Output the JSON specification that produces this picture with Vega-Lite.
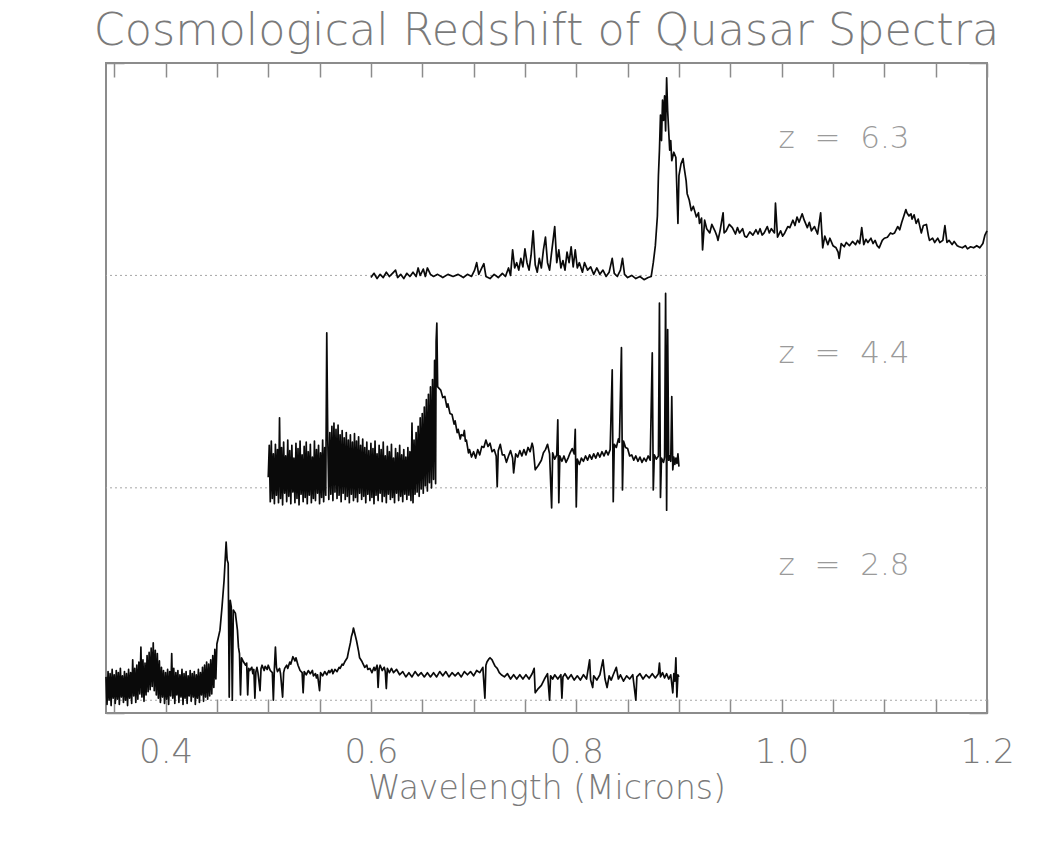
{
  "$schema": "https://vega.github.io/schema/vega-lite/v6.json",
  "width": 881,
  "height": 650,
  "autosize": "none",
  "padding": {"left": 106, "top": 63, "right": 56, "bottom": 130},
  "background": "white",
  "title": {
    "text": "Cosmological Redshift of Quasar Spectra",
    "anchor": "middle",
    "font": "DejaVu Sans",
    "fontWeight": 200,
    "fontSize": 44.5,
    "color": "#7a7a7a",
    "offset": 8
  },
  "config": {
    "view": {"stroke": "#8c8c8c", "strokeWidth": 2},
    "axis": {
      "domain": false,
      "grid": false,
      "tickColor": "#8c8c8c",
      "tickWidth": 1.5,
      "labelFont": "DejaVu Sans",
      "labelFontWeight": 200,
      "labelColor": "#7a7a7a",
      "titleFont": "DejaVu Sans",
      "titleFontWeight": 200,
      "titleColor": "#7a7a7a"
    }
  },
  "datasets": {
    "baselines": [{"z": "2.8", "f": 0}, {"z": "4.4", "f": 2}, {"z": "6.3", "f": 4}],
    "labels": [
      {"w": 0.997, "f": 5.28, "label": "z\u00a0\u00a0=\u00a0\u00a06.3"},
      {"w": 0.997, "f": 3.26, "label": "z\u00a0\u00a0=\u00a0\u00a04.4"},
      {"w": 0.997, "f": 1.26, "label": "z\u00a0\u00a0=\u00a0\u00a02.8"}
    ],
    "spectra": [
      {"z":"6.3","w":0.600,"f":3.98},{"z":"6.3","w":0.603,"f":4.02},{"z":"6.3","w":0.606,"f":3.97},{"z":"6.3","w":0.609,"f":4.01},
      {"z":"6.3","w":0.612,"f":3.98},{"z":"6.3","w":0.615,"f":4.03},{"z":"6.3","w":0.618,"f":3.99},{"z":"6.3","w":0.621,"f":4.02},
      {"z":"6.3","w":0.624,"f":4.05},{"z":"6.3","w":0.626,"f":3.98},{"z":"6.3","w":0.629,"f":4.01},{"z":"6.3","w":0.632,"f":3.97},
      {"z":"6.3","w":0.635,"f":4.02},{"z":"6.3","w":0.638,"f":3.99},{"z":"6.3","w":0.641,"f":4.03},{"z":"6.3","w":0.644,"f":3.99},
      {"z":"6.3","w":0.646,"f":4.07},{"z":"6.3","w":0.648,"f":4.00},{"z":"6.3","w":0.651,"f":4.06},{"z":"6.3","w":0.653,"f":3.99},
      {"z":"6.3","w":0.655,"f":4.07},{"z":"6.3","w":0.658,"f":4.01},{"z":"6.3","w":0.661,"f":3.99},{"z":"6.3","w":0.665,"f":4.01},
      {"z":"6.3","w":0.670,"f":3.98},{"z":"6.3","w":0.675,"f":4.01},{"z":"6.3","w":0.680,"f":3.99},{"z":"6.3","w":0.685,"f":4.01},
      {"z":"6.3","w":0.690,"f":3.98},{"z":"6.3","w":0.694,"f":4.01},{"z":"6.3","w":0.698,"f":3.99},{"z":"6.3","w":0.701,"f":4.05},
      {"z":"6.3","w":0.703,"f":4.12},{"z":"6.3","w":0.705,"f":4.01},{"z":"6.3","w":0.708,"f":4.07},{"z":"6.3","w":0.710,"f":4.11},
      {"z":"6.3","w":0.712,"f":3.99},{"z":"6.3","w":0.716,"f":3.97},{"z":"6.3","w":0.720,"f":4.01},{"z":"6.3","w":0.724,"f":3.98},
      {"z":"6.3","w":0.728,"f":4.02},{"z":"6.3","w":0.731,"f":3.99},{"z":"6.3","w":0.734,"f":4.07},{"z":"6.3","w":0.736,"f":4.00},
      {"z":"6.3","w":0.738,"f":4.24},{"z":"6.3","w":0.740,"f":4.07},{"z":"6.3","w":0.742,"f":4.12},{"z":"6.3","w":0.744,"f":4.05},
      {"z":"6.3","w":0.746,"f":4.16},{"z":"6.3","w":0.748,"f":4.08},{"z":"6.3","w":0.750,"f":4.25},{"z":"6.3","w":0.752,"f":4.12},
      {"z":"6.3","w":0.754,"f":4.05},{"z":"6.3","w":0.756,"f":4.19},{"z":"6.3","w":0.758,"f":4.42},{"z":"6.3","w":0.760,"f":4.10},
      {"z":"6.3","w":0.762,"f":4.03},{"z":"6.3","w":0.764,"f":4.16},{"z":"6.3","w":0.766,"f":4.07},{"z":"6.3","w":0.768,"f":4.24},
      {"z":"6.3","w":0.770,"f":4.36},{"z":"6.3","w":0.772,"f":4.12},{"z":"6.3","w":0.774,"f":4.05},{"z":"6.3","w":0.776,"f":4.22},
      {"z":"6.3","w":0.779,"f":4.46},{"z":"6.3","w":0.781,"f":4.12},{"z":"6.3","w":0.783,"f":4.24},{"z":"6.3","w":0.785,"f":4.07},
      {"z":"6.3","w":0.787,"f":4.14},{"z":"6.3","w":0.789,"f":4.05},{"z":"6.3","w":0.791,"f":4.22},{"z":"6.3","w":0.793,"f":4.12},
      {"z":"6.3","w":0.795,"f":4.27},{"z":"6.3","w":0.797,"f":4.08},{"z":"6.3","w":0.799,"f":4.24},{"z":"6.3","w":0.801,"f":4.07},
      {"z":"6.3","w":0.803,"f":4.12},{"z":"6.3","w":0.806,"f":4.03},{"z":"6.3","w":0.808,"f":4.12},{"z":"6.3","w":0.811,"f":4.05},
      {"z":"6.3","w":0.814,"f":4.08},{"z":"6.3","w":0.817,"f":4.01},{"z":"6.3","w":0.820,"f":4.07},{"z":"6.3","w":0.823,"f":4.01},
      {"z":"6.3","w":0.826,"f":4.05},{"z":"6.3","w":0.829,"f":3.99},{"z":"6.3","w":0.832,"f":4.03},{"z":"6.3","w":0.835,"f":4.16},
      {"z":"6.3","w":0.837,"f":4.02},{"z":"6.3","w":0.840,"f":3.99},{"z":"6.3","w":0.843,"f":4.05},{"z":"6.3","w":0.845,"f":4.16},
      {"z":"6.3","w":0.847,"f":4.01},{"z":"6.3","w":0.850,"f":3.98},{"z":"6.3","w":0.854,"f":4.00},{"z":"6.3","w":0.858,"f":3.97},
      {"z":"6.3","w":0.862,"f":3.99},{"z":"6.3","w":0.866,"f":3.96},{"z":"6.3","w":0.870,"f":3.98},{"z":"6.3","w":0.873,"f":3.99},
      {"z":"6.3","w":0.875,"f":4.12},{"z":"6.3","w":0.877,"f":4.28},{"z":"6.3","w":0.879,"f":4.56},{"z":"6.3","w":0.880,"f":4.94},
      {"z":"6.3","w":0.881,"f":5.18},{"z":"6.3","w":0.882,"f":5.51},{"z":"6.3","w":0.883,"f":5.27},{"z":"6.3","w":0.884,"f":5.65},
      {"z":"6.3","w":0.885,"f":5.46},{"z":"6.3","w":0.886,"f":5.69},{"z":"6.3","w":0.887,"f":5.36},{"z":"6.3","w":0.888,"f":5.86},
      {"z":"6.3","w":0.889,"f":5.55},{"z":"6.3","w":0.890,"f":5.36},{"z":"6.3","w":0.891,"f":5.18},{"z":"6.3","w":0.892,"f":5.27},
      {"z":"6.3","w":0.893,"f":5.08},{"z":"6.3","w":0.895,"f":5.16},{"z":"6.3","w":0.897,"f":5.11},{"z":"6.3","w":0.899,"f":4.49},
      {"z":"6.3","w":0.900,"f":4.94},{"z":"6.3","w":0.902,"f":5.05},{"z":"6.3","w":0.904,"f":5.10},{"z":"6.3","w":0.905,"f":5.02},
      {"z":"6.3","w":0.907,"f":4.89},{"z":"6.3","w":0.908,"f":4.77},{"z":"6.3","w":0.910,"f":4.71},{"z":"6.3","w":0.912,"f":4.61},
      {"z":"6.3","w":0.914,"f":4.65},{"z":"6.3","w":0.917,"f":4.55},{"z":"6.3","w":0.919,"f":4.59},{"z":"6.3","w":0.920,"f":4.49},
      {"z":"6.3","w":0.922,"f":4.54},{"z":"6.3","w":0.923,"f":4.24},{"z":"6.3","w":0.925,"f":4.52},{"z":"6.3","w":0.927,"f":4.44},
      {"z":"6.3","w":0.930,"f":4.40},{"z":"6.3","w":0.932,"f":4.48},{"z":"6.3","w":0.935,"f":4.42},{"z":"6.3","w":0.937,"f":4.37},
      {"z":"6.3","w":0.938,"f":4.33},{"z":"6.3","w":0.940,"f":4.42},{"z":"6.3","w":0.943,"f":4.59},{"z":"6.3","w":0.944,"f":4.40},
      {"z":"6.3","w":0.946,"f":4.42},{"z":"6.3","w":0.949,"f":4.48},{"z":"6.3","w":0.952,"f":4.45},{"z":"6.3","w":0.955,"f":4.39},
      {"z":"6.3","w":0.957,"f":4.45},{"z":"6.3","w":0.959,"f":4.40},{"z":"6.3","w":0.962,"f":4.44},{"z":"6.3","w":0.964,"f":4.37},
      {"z":"6.3","w":0.966,"f":4.36},{"z":"6.3","w":0.969,"f":4.41},{"z":"6.3","w":0.972,"f":4.38},{"z":"6.3","w":0.975,"f":4.43},
      {"z":"6.3","w":0.977,"f":4.39},{"z":"6.3","w":0.979,"f":4.44},{"z":"6.3","w":0.981,"f":4.38},{"z":"6.3","w":0.983,"f":4.40},
      {"z":"6.3","w":0.986,"f":4.46},{"z":"6.3","w":0.988,"f":4.40},{"z":"6.3","w":0.990,"f":4.44},{"z":"6.3","w":0.993,"f":4.40},
      {"z":"6.3","w":0.994,"f":4.68},{"z":"6.3","w":0.996,"f":4.36},{"z":"6.3","w":0.999,"f":4.42},{"z":"6.3","w":1.001,"f":4.37},
      {"z":"6.3","w":1.003,"f":4.40},{"z":"6.3","w":1.006,"f":4.46},{"z":"6.3","w":1.008,"f":4.45},{"z":"6.3","w":1.011,"f":4.52},
      {"z":"6.3","w":1.013,"f":4.47},{"z":"6.3","w":1.015,"f":4.55},{"z":"6.3","w":1.017,"f":4.50},{"z":"6.3","w":1.020,"f":4.58},
      {"z":"6.3","w":1.022,"f":4.52},{"z":"6.3","w":1.025,"f":4.45},{"z":"6.3","w":1.027,"f":4.50},{"z":"6.3","w":1.029,"f":4.42},
      {"z":"6.3","w":1.032,"f":4.46},{"z":"6.3","w":1.035,"f":4.39},{"z":"6.3","w":1.038,"f":4.59},{"z":"6.3","w":1.040,"f":4.26},
      {"z":"6.3","w":1.042,"f":4.37},{"z":"6.3","w":1.045,"f":4.29},{"z":"6.3","w":1.047,"f":4.35},{"z":"6.3","w":1.050,"f":4.28},
      {"z":"6.3","w":1.053,"f":4.26},{"z":"6.3","w":1.055,"f":4.22},{"z":"6.3","w":1.056,"f":4.16},{"z":"6.3","w":1.058,"f":4.30},
      {"z":"6.3","w":1.061,"f":4.27},{"z":"6.3","w":1.063,"f":4.31},{"z":"6.3","w":1.066,"f":4.28},{"z":"6.3","w":1.069,"f":4.32},
      {"z":"6.3","w":1.072,"f":4.29},{"z":"6.3","w":1.074,"f":4.33},{"z":"6.3","w":1.076,"f":4.30},{"z":"6.3","w":1.078,"f":4.45},
      {"z":"6.3","w":1.080,"f":4.29},{"z":"6.3","w":1.082,"f":4.34},{"z":"6.3","w":1.084,"f":4.31},{"z":"6.3","w":1.087,"f":4.35},
      {"z":"6.3","w":1.089,"f":4.30},{"z":"6.3","w":1.091,"f":4.33},{"z":"6.3","w":1.093,"f":4.28},{"z":"6.3","w":1.095,"f":4.26},
      {"z":"6.3","w":1.098,"f":4.33},{"z":"6.3","w":1.100,"f":4.35},{"z":"6.3","w":1.103,"f":4.36},{"z":"6.3","w":1.106,"f":4.40},
      {"z":"6.3","w":1.108,"f":4.39},{"z":"6.3","w":1.110,"f":4.40},{"z":"6.3","w":1.113,"f":4.46},{"z":"6.3","w":1.115,"f":4.43},
      {"z":"6.3","w":1.117,"f":4.50},{"z":"6.3","w":1.119,"f":4.56},{"z":"6.3","w":1.121,"f":4.62},{"z":"6.3","w":1.122,"f":4.59},
      {"z":"6.3","w":1.124,"f":4.56},{"z":"6.3","w":1.126,"f":4.58},{"z":"6.3","w":1.127,"f":4.53},{"z":"6.3","w":1.129,"f":4.57},
      {"z":"6.3","w":1.131,"f":4.49},{"z":"6.3","w":1.133,"f":4.53},{"z":"6.3","w":1.136,"f":4.40},{"z":"6.3","w":1.138,"f":4.47},
      {"z":"6.3","w":1.141,"f":4.48},{"z":"6.3","w":1.143,"f":4.37},{"z":"6.3","w":1.144,"f":4.33},{"z":"6.3","w":1.147,"f":4.35},
      {"z":"6.3","w":1.149,"f":4.31},{"z":"6.3","w":1.152,"f":4.35},{"z":"6.3","w":1.154,"f":4.31},{"z":"6.3","w":1.157,"f":4.33},
      {"z":"6.3","w":1.159,"f":4.47},{"z":"6.3","w":1.161,"f":4.31},{"z":"6.3","w":1.163,"f":4.33},{"z":"6.3","w":1.166,"f":4.29},
      {"z":"6.3","w":1.168,"f":4.32},{"z":"6.3","w":1.171,"f":4.28},{"z":"6.3","w":1.173,"f":4.27},{"z":"6.3","w":1.176,"f":4.26},
      {"z":"6.3","w":1.179,"f":4.28},{"z":"6.3","w":1.181,"f":4.25},{"z":"6.3","w":1.184,"f":4.27},{"z":"6.3","w":1.187,"f":4.26},
      {"z":"6.3","w":1.190,"f":4.28},{"z":"6.3","w":1.193,"f":4.26},{"z":"6.3","w":1.196,"f":4.30},{"z":"6.3","w":1.198,"f":4.38},
      {"z":"6.3","w":1.200,"f":4.42},

      {"z":"4.4","w":0.500,"f":2.10},{"z":"4.4","w":0.501,"f":2.40},{"z":"4.4","w":0.502,"f":1.87},{"z":"4.4","w":0.503,"f":2.44},
      {"z":"4.4","w":0.504,"f":1.90},{"z":"4.4","w":0.505,"f":2.32},{"z":"4.4","w":0.506,"f":1.85},{"z":"4.4","w":0.507,"f":2.41},
      {"z":"4.4","w":0.508,"f":1.93},{"z":"4.4","w":0.509,"f":2.36},{"z":"4.4","w":0.510,"f":1.86},{"z":"4.4","w":0.511,"f":2.66},
      {"z":"4.4","w":0.512,"f":1.90},{"z":"4.4","w":0.513,"f":2.38},{"z":"4.4","w":0.514,"f":1.84},{"z":"4.4","w":0.515,"f":2.43},
      {"z":"4.4","w":0.516,"f":1.95},{"z":"4.4","w":0.517,"f":2.30},{"z":"4.4","w":0.518,"f":1.87},{"z":"4.4","w":0.519,"f":2.45},
      {"z":"4.4","w":0.520,"f":1.92},{"z":"4.4","w":0.521,"f":2.35},{"z":"4.4","w":0.522,"f":1.85},{"z":"4.4","w":0.523,"f":2.40},
      {"z":"4.4","w":0.524,"f":1.96},{"z":"4.4","w":0.525,"f":2.28},{"z":"4.4","w":0.526,"f":1.86},{"z":"4.4","w":0.527,"f":2.42},
      {"z":"4.4","w":0.528,"f":1.90},{"z":"4.4","w":0.529,"f":2.37},{"z":"4.4","w":0.530,"f":1.84},{"z":"4.4","w":0.531,"f":2.44},
      {"z":"4.4","w":0.532,"f":1.94},{"z":"4.4","w":0.533,"f":2.31},{"z":"4.4","w":0.534,"f":1.87},{"z":"4.4","w":0.535,"f":2.39},
      {"z":"4.4","w":0.536,"f":1.91},{"z":"4.4","w":0.537,"f":2.43},{"z":"4.4","w":0.538,"f":1.85},{"z":"4.4","w":0.539,"f":2.34},
      {"z":"4.4","w":0.540,"f":1.93},{"z":"4.4","w":0.541,"f":2.41},{"z":"4.4","w":0.542,"f":1.86},{"z":"4.4","w":0.543,"f":2.29},
      {"z":"4.4","w":0.544,"f":1.90},{"z":"4.4","w":0.545,"f":2.44},{"z":"4.4","w":0.546,"f":1.88},{"z":"4.4","w":0.547,"f":2.36},
      {"z":"4.4","w":0.548,"f":1.95},{"z":"4.4","w":0.549,"f":2.40},{"z":"4.4","w":0.550,"f":1.85},{"z":"4.4","w":0.551,"f":2.33},
      {"z":"4.4","w":0.552,"f":1.91},{"z":"4.4","w":0.553,"f":2.45},{"z":"4.4","w":0.554,"f":1.87},{"z":"4.4","w":0.555,"f":2.38},
      {"z":"4.4","w":0.556,"f":1.93},{"z":"4.4","w":0.557,"f":3.46},{"z":"4.4","w":0.558,"f":2.45},{"z":"4.4","w":0.559,"f":1.89},
      {"z":"4.4","w":0.560,"f":2.52},{"z":"4.4","w":0.561,"f":1.94},{"z":"4.4","w":0.562,"f":2.58},{"z":"4.4","w":0.563,"f":1.88},
      {"z":"4.4","w":0.564,"f":2.61},{"z":"4.4","w":0.565,"f":1.96},{"z":"4.4","w":0.566,"f":2.55},{"z":"4.4","w":0.567,"f":1.90},
      {"z":"4.4","w":0.568,"f":2.59},{"z":"4.4","w":0.569,"f":1.93},{"z":"4.4","w":0.570,"f":2.50},{"z":"4.4","w":0.571,"f":1.87},
      {"z":"4.4","w":0.572,"f":2.54},{"z":"4.4","w":0.573,"f":1.95},{"z":"4.4","w":0.574,"f":2.47},{"z":"4.4","w":0.575,"f":1.89},
      {"z":"4.4","w":0.576,"f":2.52},{"z":"4.4","w":0.577,"f":1.92},{"z":"4.4","w":0.578,"f":2.45},{"z":"4.4","w":0.579,"f":1.86},
      {"z":"4.4","w":0.580,"f":2.50},{"z":"4.4","w":0.581,"f":1.94},{"z":"4.4","w":0.582,"f":2.43},{"z":"4.4","w":0.583,"f":1.88},
      {"z":"4.4","w":0.584,"f":2.51},{"z":"4.4","w":0.585,"f":1.91},{"z":"4.4","w":0.586,"f":2.44},{"z":"4.4","w":0.587,"f":1.87},
      {"z":"4.4","w":0.588,"f":2.48},{"z":"4.4","w":0.589,"f":1.95},{"z":"4.4","w":0.590,"f":2.40},{"z":"4.4","w":0.591,"f":1.89},
      {"z":"4.4","w":0.592,"f":2.46},{"z":"4.4","w":0.593,"f":1.92},{"z":"4.4","w":0.594,"f":2.38},{"z":"4.4","w":0.595,"f":1.86},
      {"z":"4.4","w":0.596,"f":2.43},{"z":"4.4","w":0.597,"f":1.94},{"z":"4.4","w":0.598,"f":2.35},{"z":"4.4","w":0.599,"f":1.88},
      {"z":"4.4","w":0.600,"f":2.42},{"z":"4.4","w":0.601,"f":1.91},{"z":"4.4","w":0.602,"f":2.37},{"z":"4.4","w":0.603,"f":1.85},
      {"z":"4.4","w":0.604,"f":2.44},{"z":"4.4","w":0.605,"f":1.93},{"z":"4.4","w":0.606,"f":2.32},{"z":"4.4","w":0.607,"f":1.88},
      {"z":"4.4","w":0.608,"f":2.40},{"z":"4.4","w":0.609,"f":1.95},{"z":"4.4","w":0.610,"f":2.36},{"z":"4.4","w":0.611,"f":1.87},
      {"z":"4.4","w":0.612,"f":2.43},{"z":"4.4","w":0.613,"f":1.92},{"z":"4.4","w":0.614,"f":2.30},{"z":"4.4","w":0.615,"f":1.86},
      {"z":"4.4","w":0.616,"f":2.39},{"z":"4.4","w":0.617,"f":1.94},{"z":"4.4","w":0.618,"f":2.34},{"z":"4.4","w":0.619,"f":1.89},
      {"z":"4.4","w":0.620,"f":2.41},{"z":"4.4","w":0.621,"f":1.91},{"z":"4.4","w":0.622,"f":2.28},{"z":"4.4","w":0.623,"f":1.86},
      {"z":"4.4","w":0.624,"f":2.37},{"z":"4.4","w":0.625,"f":1.95},{"z":"4.4","w":0.626,"f":2.33},{"z":"4.4","w":0.627,"f":1.88},
      {"z":"4.4","w":0.628,"f":2.40},{"z":"4.4","w":0.629,"f":1.92},{"z":"4.4","w":0.630,"f":2.31},{"z":"4.4","w":0.631,"f":1.87},
      {"z":"4.4","w":0.632,"f":2.36},{"z":"4.4","w":0.633,"f":1.94},{"z":"4.4","w":0.634,"f":2.29},{"z":"4.4","w":0.635,"f":1.89},
      {"z":"4.4","w":0.636,"f":2.38},{"z":"4.4","w":0.637,"f":1.93},{"z":"4.4","w":0.638,"f":2.34},{"z":"4.4","w":0.639,"f":1.88},
      {"z":"4.4","w":0.640,"f":2.61},{"z":"4.4","w":0.641,"f":1.86},{"z":"4.4","w":0.642,"f":2.45},{"z":"4.4","w":0.643,"f":1.94},
      {"z":"4.4","w":0.644,"f":2.52},{"z":"4.4","w":0.645,"f":1.96},{"z":"4.4","w":0.646,"f":2.58},{"z":"4.4","w":0.647,"f":1.92},
      {"z":"4.4","w":0.648,"f":2.66},{"z":"4.4","w":0.649,"f":1.99},{"z":"4.4","w":0.650,"f":2.70},{"z":"4.4","w":0.651,"f":1.95},
      {"z":"4.4","w":0.652,"f":2.76},{"z":"4.4","w":0.653,"f":2.02},{"z":"4.4","w":0.654,"f":2.83},{"z":"4.4","w":0.655,"f":1.97},
      {"z":"4.4","w":0.656,"f":2.88},{"z":"4.4","w":0.657,"f":2.05},{"z":"4.4","w":0.658,"f":2.95},{"z":"4.4","w":0.659,"f":2.00},
      {"z":"4.4","w":0.660,"f":3.02},{"z":"4.4","w":0.661,"f":2.08},{"z":"4.4","w":0.662,"f":3.20},{"z":"4.4","w":0.663,"f":2.04},
      {"z":"4.4","w":0.6635,"f":3.38},{"z":"4.4","w":0.6642,"f":3.55},{"z":"4.4","w":0.6650,"f":2.95},
      {"z":"4.4","w":0.668,"f":2.92},{"z":"4.4","w":0.670,"f":2.85},{"z":"4.4","w":0.672,"f":2.86},{"z":"4.4","w":0.674,"f":2.76},
      {"z":"4.4","w":0.675,"f":2.79},{"z":"4.4","w":0.677,"f":2.70},{"z":"4.4","w":0.679,"f":2.69},{"z":"4.4","w":0.681,"f":2.60},
      {"z":"4.4","w":0.682,"f":2.63},{"z":"4.4","w":0.684,"f":2.52},{"z":"4.4","w":0.685,"f":2.55},{"z":"4.4","w":0.687,"f":2.46},
      {"z":"4.4","w":0.688,"f":2.50},{"z":"4.4","w":0.690,"f":2.49},{"z":"4.4","w":0.691,"f":2.54},{"z":"4.4","w":0.692,"f":2.44},
      {"z":"4.4","w":0.693,"f":2.45},{"z":"4.4","w":0.695,"f":2.33},{"z":"4.4","w":0.696,"f":2.36},{"z":"4.4","w":0.698,"f":2.29},
      {"z":"4.4","w":0.700,"f":2.34},{"z":"4.4","w":0.702,"f":2.28},{"z":"4.4","w":0.704,"f":2.36},{"z":"4.4","w":0.706,"f":2.31},
      {"z":"4.4","w":0.708,"f":2.39},{"z":"4.4","w":0.710,"f":2.38},{"z":"4.4","w":0.712,"f":2.45},{"z":"4.4","w":0.714,"f":2.39},
      {"z":"4.4","w":0.716,"f":2.42},{"z":"4.4","w":0.718,"f":2.34},{"z":"4.4","w":0.720,"f":2.36},{"z":"4.4","w":0.722,"f":2.30},
      {"z":"4.4","w":0.723,"f":2.01},{"z":"4.4","w":0.724,"f":2.35},{"z":"4.4","w":0.726,"f":2.41},{"z":"4.4","w":0.728,"f":2.31},
      {"z":"4.4","w":0.730,"f":2.31},{"z":"4.4","w":0.732,"f":2.24},{"z":"4.4","w":0.734,"f":2.30},{"z":"4.4","w":0.736,"f":2.35},
      {"z":"4.4","w":0.738,"f":2.28},{"z":"4.4","w":0.739,"f":2.14},{"z":"4.4","w":0.741,"f":2.32},{"z":"4.4","w":0.743,"f":2.29},
      {"z":"4.4","w":0.745,"f":2.35},{"z":"4.4","w":0.747,"f":2.30},{"z":"4.4","w":0.749,"f":2.36},{"z":"4.4","w":0.751,"f":2.31},
      {"z":"4.4","w":0.753,"f":2.38},{"z":"4.4","w":0.755,"f":2.34},{"z":"4.4","w":0.757,"f":2.42},{"z":"4.4","w":0.758,"f":2.38},
      {"z":"4.4","w":0.760,"f":2.17},{"z":"4.4","w":0.763,"f":2.21},{"z":"4.4","w":0.766,"f":2.26},{"z":"4.4","w":0.768,"f":2.33},
      {"z":"4.4","w":0.770,"f":2.36},{"z":"4.4","w":0.772,"f":2.41},{"z":"4.4","w":0.774,"f":2.32},{"z":"4.4","w":0.776,"f":1.81},
      {"z":"4.4","w":0.777,"f":2.33},{"z":"4.4","w":0.779,"f":2.27},{"z":"4.4","w":0.781,"f":2.31},{"z":"4.4","w":0.782,"f":2.64},
      {"z":"4.4","w":0.783,"f":1.86},{"z":"4.4","w":0.784,"f":2.30},{"z":"4.4","w":0.786,"f":2.25},{"z":"4.4","w":0.788,"f":2.30},
      {"z":"4.4","w":0.790,"f":2.24},{"z":"4.4","w":0.792,"f":2.28},{"z":"4.4","w":0.794,"f":2.33},{"z":"4.4","w":0.796,"f":2.37},
      {"z":"4.4","w":0.798,"f":2.32},{"z":"4.4","w":0.799,"f":2.55},{"z":"4.4","w":0.800,"f":1.82},{"z":"4.4","w":0.801,"f":2.27},
      {"z":"4.4","w":0.803,"f":2.22},{"z":"4.4","w":0.805,"f":2.28},{"z":"4.4","w":0.807,"f":2.25},{"z":"4.4","w":0.809,"f":2.30},
      {"z":"4.4","w":0.811,"f":2.26},{"z":"4.4","w":0.813,"f":2.31},{"z":"4.4","w":0.815,"f":2.27},{"z":"4.4","w":0.817,"f":2.32},
      {"z":"4.4","w":0.819,"f":2.28},{"z":"4.4","w":0.821,"f":2.33},{"z":"4.4","w":0.823,"f":2.29},{"z":"4.4","w":0.825,"f":2.34},
      {"z":"4.4","w":0.827,"f":2.30},{"z":"4.4","w":0.829,"f":2.35},{"z":"4.4","w":0.831,"f":2.31},{"z":"4.4","w":0.833,"f":2.36},
      {"z":"4.4","w":0.835,"f":3.11},{"z":"4.4","w":0.836,"f":1.87},{"z":"4.4","w":0.837,"f":2.41},{"z":"4.4","w":0.839,"f":2.38},
      {"z":"4.4","w":0.841,"f":2.46},{"z":"4.4","w":0.842,"f":2.43},{"z":"4.4","w":0.844,"f":3.32},{"z":"4.4","w":0.845,"f":1.98},
      {"z":"4.4","w":0.846,"f":2.44},{"z":"4.4","w":0.848,"f":2.38},{"z":"4.4","w":0.850,"f":2.37},{"z":"4.4","w":0.852,"f":2.30},
      {"z":"4.4","w":0.854,"f":2.31},{"z":"4.4","w":0.856,"f":2.26},{"z":"4.4","w":0.858,"f":2.30},{"z":"4.4","w":0.860,"f":2.25},
      {"z":"4.4","w":0.862,"f":2.29},{"z":"4.4","w":0.864,"f":2.24},{"z":"4.4","w":0.866,"f":2.28},{"z":"4.4","w":0.868,"f":2.25},
      {"z":"4.4","w":0.870,"f":2.30},{"z":"4.4","w":0.872,"f":2.26},{"z":"4.4","w":0.874,"f":3.27},{"z":"4.4","w":0.875,"f":1.98},
      {"z":"4.4","w":0.876,"f":2.31},{"z":"4.4","w":0.878,"f":2.27},{"z":"4.4","w":0.880,"f":2.30},{"z":"4.4","w":0.881,"f":3.74},
      {"z":"4.4","w":0.882,"f":1.91},{"z":"4.4","w":0.883,"f":2.28},{"z":"4.4","w":0.885,"f":2.24},{"z":"4.4","w":0.886,"f":2.29},
      {"z":"4.4","w":0.887,"f":3.83},{"z":"4.4","w":0.888,"f":1.79},{"z":"4.4","w":0.889,"f":3.49},{"z":"4.4","w":0.890,"f":2.26},
      {"z":"4.4","w":0.891,"f":2.30},{"z":"4.4","w":0.892,"f":2.25},{"z":"4.4","w":0.893,"f":2.86},{"z":"4.4","w":0.894,"f":2.17},
      {"z":"4.4","w":0.895,"f":2.29},{"z":"4.4","w":0.896,"f":2.22},{"z":"4.4","w":0.897,"f":2.28},{"z":"4.4","w":0.898,"f":2.23},
      {"z":"4.4","w":0.899,"f":2.32},{"z":"4.4","w":0.900,"f":2.20},

      {"z":"2.8","w":0.342,"f":0.22},{"z":"2.8","w":0.343,"f":-0.04},{"z":"2.8","w":0.344,"f":0.27},{"z":"2.8","w":0.345,"f":0.00},
      {"z":"2.8","w":0.346,"f":0.25},{"z":"2.8","w":0.347,"f":-0.05},{"z":"2.8","w":0.348,"f":0.29},{"z":"2.8","w":0.349,"f":0.02},
      {"z":"2.8","w":0.350,"f":0.24},{"z":"2.8","w":0.351,"f":-0.03},{"z":"2.8","w":0.352,"f":0.28},{"z":"2.8","w":0.353,"f":0.01},
      {"z":"2.8","w":0.354,"f":0.26},{"z":"2.8","w":0.355,"f":-0.04},{"z":"2.8","w":0.356,"f":0.30},{"z":"2.8","w":0.357,"f":0.03},
      {"z":"2.8","w":0.358,"f":0.23},{"z":"2.8","w":0.359,"f":-0.02},{"z":"2.8","w":0.360,"f":0.27},{"z":"2.8","w":0.361,"f":0.00},
      {"z":"2.8","w":0.362,"f":0.25},{"z":"2.8","w":0.363,"f":-0.05},{"z":"2.8","w":0.364,"f":0.29},{"z":"2.8","w":0.365,"f":0.02},
      {"z":"2.8","w":0.366,"f":0.26},{"z":"2.8","w":0.367,"f":-0.03},{"z":"2.8","w":0.368,"f":0.38},{"z":"2.8","w":0.369,"f":0.04},
      {"z":"2.8","w":0.370,"f":0.30},{"z":"2.8","w":0.371,"f":-0.02},{"z":"2.8","w":0.372,"f":0.33},{"z":"2.8","w":0.373,"f":0.01},
      {"z":"2.8","w":0.374,"f":0.36},{"z":"2.8","w":0.375,"f":0.06},{"z":"2.8","w":0.376,"f":0.50},{"z":"2.8","w":0.377,"f":0.03},
      {"z":"2.8","w":0.378,"f":0.38},{"z":"2.8","w":0.379,"f":-0.01},{"z":"2.8","w":0.380,"f":0.35},{"z":"2.8","w":0.381,"f":0.05},
      {"z":"2.8","w":0.382,"f":0.42},{"z":"2.8","w":0.383,"f":0.08},{"z":"2.8","w":0.384,"f":0.45},{"z":"2.8","w":0.385,"f":0.10},
      {"z":"2.8","w":0.386,"f":0.49},{"z":"2.8","w":0.387,"f":0.13},{"z":"2.8","w":0.388,"f":0.54},{"z":"2.8","w":0.389,"f":0.09},
      {"z":"2.8","w":0.390,"f":0.47},{"z":"2.8","w":0.391,"f":0.05},{"z":"2.8","w":0.392,"f":0.44},{"z":"2.8","w":0.393,"f":0.02},
      {"z":"2.8","w":0.394,"f":0.37},{"z":"2.8","w":0.395,"f":-0.02},{"z":"2.8","w":0.396,"f":0.31},{"z":"2.8","w":0.397,"f":0.03},
      {"z":"2.8","w":0.398,"f":0.28},{"z":"2.8","w":0.399,"f":-0.03},{"z":"2.8","w":0.400,"f":0.26},{"z":"2.8","w":0.401,"f":0.01},
      {"z":"2.8","w":0.402,"f":0.29},{"z":"2.8","w":0.403,"f":-0.04},{"z":"2.8","w":0.404,"f":0.27},{"z":"2.8","w":0.405,"f":0.04},
      {"z":"2.8","w":0.406,"f":0.44},{"z":"2.8","w":0.407,"f":0.02},{"z":"2.8","w":0.408,"f":0.30},{"z":"2.8","w":0.409,"f":-0.03},
      {"z":"2.8","w":0.410,"f":0.26},{"z":"2.8","w":0.411,"f":0.05},{"z":"2.8","w":0.412,"f":0.28},{"z":"2.8","w":0.413,"f":-0.02},
      {"z":"2.8","w":0.414,"f":0.24},{"z":"2.8","w":0.415,"f":0.03},{"z":"2.8","w":0.416,"f":0.29},{"z":"2.8","w":0.417,"f":-0.04},
      {"z":"2.8","w":0.418,"f":0.25},{"z":"2.8","w":0.419,"f":0.02},{"z":"2.8","w":0.420,"f":0.27},{"z":"2.8","w":0.421,"f":-0.03},
      {"z":"2.8","w":0.422,"f":0.23},{"z":"2.8","w":0.423,"f":0.04},{"z":"2.8","w":0.424,"f":0.28},{"z":"2.8","w":0.425,"f":-0.01},
      {"z":"2.8","w":0.426,"f":0.25},{"z":"2.8","w":0.427,"f":0.03},{"z":"2.8","w":0.428,"f":0.27},{"z":"2.8","w":0.429,"f":-0.04},
      {"z":"2.8","w":0.430,"f":0.24},{"z":"2.8","w":0.431,"f":0.02},{"z":"2.8","w":0.432,"f":0.29},{"z":"2.8","w":0.433,"f":-0.02},
      {"z":"2.8","w":0.434,"f":0.26},{"z":"2.8","w":0.435,"f":0.05},{"z":"2.8","w":0.436,"f":0.31},{"z":"2.8","w":0.437,"f":-0.01},
      {"z":"2.8","w":0.438,"f":0.33},{"z":"2.8","w":0.439,"f":0.03},{"z":"2.8","w":0.440,"f":0.36},{"z":"2.8","w":0.441,"f":0.01},
      {"z":"2.8","w":0.442,"f":0.34},{"z":"2.8","w":0.443,"f":0.04},{"z":"2.8","w":0.444,"f":0.38},{"z":"2.8","w":0.445,"f":0.06},
      {"z":"2.8","w":0.446,"f":0.42},{"z":"2.8","w":0.447,"f":0.12},{"z":"2.8","w":0.448,"f":0.48},{"z":"2.8","w":0.449,"f":0.20},
      {"z":"2.8","w":0.450,"f":0.53},
      {"z":"2.8","w":0.453,"f":0.66},{"z":"2.8","w":0.455,"f":0.88},{"z":"2.8","w":0.457,"f":1.13},{"z":"2.8","w":0.459,"f":1.49},
      {"z":"2.8","w":0.460,"f":1.32},{"z":"2.8","w":0.461,"f":1.29},{"z":"2.8","w":0.462,"f":0.03},{"z":"2.8","w":0.463,"f":0.94},
      {"z":"2.8","w":0.464,"f":0.88},{"z":"2.8","w":0.465,"f":0.00},{"z":"2.8","w":0.466,"f":0.85},{"z":"2.8","w":0.468,"f":0.82},
      {"z":"2.8","w":0.470,"f":0.66},{"z":"2.8","w":0.471,"f":0.50},{"z":"2.8","w":0.472,"f":0.44},{"z":"2.8","w":0.473,"f":0.05},
      {"z":"2.8","w":0.474,"f":0.40},{"z":"2.8","w":0.476,"f":0.36},{"z":"2.8","w":0.478,"f":0.33},{"z":"2.8","w":0.479,"f":0.35},
      {"z":"2.8","w":0.480,"f":0.05},{"z":"2.8","w":0.481,"f":0.30},{"z":"2.8","w":0.482,"f":0.28},{"z":"2.8","w":0.484,"f":0.31},
      {"z":"2.8","w":0.485,"f":0.25},{"z":"2.8","w":0.486,"f":0.29},{"z":"2.8","w":0.487,"f":0.02},{"z":"2.8","w":0.488,"f":0.27},
      {"z":"2.8","w":0.489,"f":0.31},{"z":"2.8","w":0.490,"f":0.26},{"z":"2.8","w":0.492,"f":0.09},{"z":"2.8","w":0.493,"f":0.30},
      {"z":"2.8","w":0.494,"f":0.33},{"z":"2.8","w":0.496,"f":0.28},{"z":"2.8","w":0.497,"f":0.32},{"z":"2.8","w":0.499,"f":0.29},
      {"z":"2.8","w":0.500,"f":0.33},{"z":"2.8","w":0.502,"f":0.28},{"z":"2.8","w":0.504,"f":0.26},{"z":"2.8","w":0.505,"f":0.00},
      {"z":"2.8","w":0.506,"f":0.30},{"z":"2.8","w":0.507,"f":0.50},{"z":"2.8","w":0.508,"f":0.31},{"z":"2.8","w":0.509,"f":0.27},
      {"z":"2.8","w":0.511,"f":0.30},{"z":"2.8","w":0.512,"f":0.25},{"z":"2.8","w":0.514,"f":0.03},{"z":"2.8","w":0.515,"f":0.26},
      {"z":"2.8","w":0.516,"f":0.30},{"z":"2.8","w":0.518,"f":0.33},{"z":"2.8","w":0.519,"f":0.30},{"z":"2.8","w":0.521,"f":0.36},
      {"z":"2.8","w":0.522,"f":0.34},{"z":"2.8","w":0.524,"f":0.41},{"z":"2.8","w":0.526,"f":0.37},{"z":"2.8","w":0.527,"f":0.40},
      {"z":"2.8","w":0.529,"f":0.33},{"z":"2.8","w":0.531,"f":0.28},{"z":"2.8","w":0.533,"f":0.26},{"z":"2.8","w":0.534,"f":0.07},
      {"z":"2.8","w":0.535,"f":0.27},{"z":"2.8","w":0.537,"f":0.24},{"z":"2.8","w":0.539,"f":0.28},{"z":"2.8","w":0.541,"f":0.25},
      {"z":"2.8","w":0.543,"f":0.28},{"z":"2.8","w":0.544,"f":0.23},{"z":"2.8","w":0.546,"f":0.25},{"z":"2.8","w":0.547,"f":0.21},
      {"z":"2.8","w":0.548,"f":0.24},{"z":"2.8","w":0.550,"f":0.09},{"z":"2.8","w":0.551,"f":0.26},{"z":"2.8","w":0.553,"f":0.23},
      {"z":"2.8","w":0.555,"f":0.27},{"z":"2.8","w":0.557,"f":0.24},{"z":"2.8","w":0.559,"f":0.28},{"z":"2.8","w":0.560,"f":0.26},
      {"z":"2.8","w":0.562,"f":0.29},{"z":"2.8","w":0.563,"f":0.25},{"z":"2.8","w":0.565,"f":0.29},{"z":"2.8","w":0.567,"f":0.27},
      {"z":"2.8","w":0.569,"f":0.31},{"z":"2.8","w":0.570,"f":0.30},{"z":"2.8","w":0.572,"f":0.34},{"z":"2.8","w":0.573,"f":0.33},
      {"z":"2.8","w":0.575,"f":0.37},{"z":"2.8","w":0.577,"f":0.40},{"z":"2.8","w":0.578,"f":0.45},{"z":"2.8","w":0.580,"f":0.54},
      {"z":"2.8","w":0.581,"f":0.60},{"z":"2.8","w":0.582,"f":0.63},{"z":"2.8","w":0.583,"f":0.68},{"z":"2.8","w":0.584,"f":0.64},
      {"z":"2.8","w":0.586,"f":0.56},{"z":"2.8","w":0.588,"f":0.46},{"z":"2.8","w":0.589,"f":0.40},{"z":"2.8","w":0.591,"f":0.37},
      {"z":"2.8","w":0.592,"f":0.35},{"z":"2.8","w":0.594,"f":0.31},{"z":"2.8","w":0.596,"f":0.33},{"z":"2.8","w":0.597,"f":0.29},
      {"z":"2.8","w":0.599,"f":0.30},{"z":"2.8","w":0.601,"f":0.26},{"z":"2.8","w":0.603,"f":0.31},{"z":"2.8","w":0.604,"f":0.28},
      {"z":"2.8","w":0.606,"f":0.33},{"z":"2.8","w":0.607,"f":0.12},{"z":"2.8","w":0.608,"f":0.30},{"z":"2.8","w":0.609,"f":0.33},
      {"z":"2.8","w":0.611,"f":0.28},{"z":"2.8","w":0.613,"f":0.31},{"z":"2.8","w":0.614,"f":0.27},{"z":"2.8","w":0.615,"f":0.11},
      {"z":"2.8","w":0.616,"f":0.30},{"z":"2.8","w":0.618,"f":0.26},{"z":"2.8","w":0.620,"f":0.30},{"z":"2.8","w":0.622,"f":0.26},
      {"z":"2.8","w":0.625,"f":0.29},{"z":"2.8","w":0.628,"f":0.24},{"z":"2.8","w":0.631,"f":0.27},{"z":"2.8","w":0.634,"f":0.22},
      {"z":"2.8","w":0.637,"f":0.26},{"z":"2.8","w":0.640,"f":0.22},{"z":"2.8","w":0.643,"f":0.27},{"z":"2.8","w":0.646,"f":0.23},
      {"z":"2.8","w":0.649,"f":0.26},{"z":"2.8","w":0.652,"f":0.22},{"z":"2.8","w":0.655,"f":0.26},{"z":"2.8","w":0.658,"f":0.22},
      {"z":"2.8","w":0.661,"f":0.26},{"z":"2.8","w":0.664,"f":0.22},{"z":"2.8","w":0.667,"f":0.27},{"z":"2.8","w":0.670,"f":0.23},
      {"z":"2.8","w":0.673,"f":0.27},{"z":"2.8","w":0.676,"f":0.22},{"z":"2.8","w":0.679,"f":0.26},{"z":"2.8","w":0.682,"f":0.23},
      {"z":"2.8","w":0.685,"f":0.26},{"z":"2.8","w":0.688,"f":0.22},{"z":"2.8","w":0.691,"f":0.27},{"z":"2.8","w":0.694,"f":0.24},
      {"z":"2.8","w":0.697,"f":0.27},{"z":"2.8","w":0.700,"f":0.23},{"z":"2.8","w":0.703,"f":0.28},{"z":"2.8","w":0.706,"f":0.26},
      {"z":"2.8","w":0.709,"f":0.31},{"z":"2.8","w":0.711,"f":0.02},{"z":"2.8","w":0.712,"f":0.33},{"z":"2.8","w":0.713,"f":0.36},
      {"z":"2.8","w":0.715,"f":0.39},{"z":"2.8","w":0.716,"f":0.40},{"z":"2.8","w":0.718,"f":0.38},{"z":"2.8","w":0.719,"f":0.36},
      {"z":"2.8","w":0.721,"f":0.32},{"z":"2.8","w":0.723,"f":0.30},{"z":"2.8","w":0.725,"f":0.26},{"z":"2.8","w":0.727,"f":0.24},
      {"z":"2.8","w":0.730,"f":0.22},{"z":"2.8","w":0.733,"f":0.25},{"z":"2.8","w":0.736,"f":0.20},{"z":"2.8","w":0.739,"f":0.24},
      {"z":"2.8","w":0.742,"f":0.20},{"z":"2.8","w":0.745,"f":0.24},{"z":"2.8","w":0.748,"f":0.20},{"z":"2.8","w":0.751,"f":0.24},
      {"z":"2.8","w":0.754,"f":0.20},{"z":"2.8","w":0.757,"f":0.25},{"z":"2.8","w":0.759,"f":0.30},{"z":"2.8","w":0.760,"f":0.07},
      {"z":"2.8","w":0.763,"f":0.11},{"z":"2.8","w":0.766,"f":0.14},{"z":"2.8","w":0.769,"f":0.20},{"z":"2.8","w":0.772,"f":0.25},
      {"z":"2.8","w":0.774,"f":0.00},{"z":"2.8","w":0.775,"f":0.23},{"z":"2.8","w":0.777,"f":0.20},{"z":"2.8","w":0.779,"f":0.24},
      {"z":"2.8","w":0.782,"f":0.20},{"z":"2.8","w":0.785,"f":0.24},{"z":"2.8","w":0.786,"f":0.02},{"z":"2.8","w":0.787,"f":0.22},
      {"z":"2.8","w":0.789,"f":0.25},{"z":"2.8","w":0.792,"f":0.20},{"z":"2.8","w":0.795,"f":0.24},{"z":"2.8","w":0.798,"f":0.19},
      {"z":"2.8","w":0.801,"f":0.23},{"z":"2.8","w":0.804,"f":0.19},{"z":"2.8","w":0.807,"f":0.24},{"z":"2.8","w":0.810,"f":0.20},
      {"z":"2.8","w":0.813,"f":0.38},{"z":"2.8","w":0.814,"f":0.19},{"z":"2.8","w":0.816,"f":0.12},{"z":"2.8","w":0.817,"f":0.23},
      {"z":"2.8","w":0.820,"f":0.19},{"z":"2.8","w":0.823,"f":0.24},{"z":"2.8","w":0.826,"f":0.38},{"z":"2.8","w":0.828,"f":0.20},
      {"z":"2.8","w":0.830,"f":0.12},{"z":"2.8","w":0.832,"f":0.23},{"z":"2.8","w":0.834,"f":0.19},{"z":"2.8","w":0.836,"f":0.24},
      {"z":"2.8","w":0.839,"f":0.31},{"z":"2.8","w":0.841,"f":0.20},{"z":"2.8","w":0.843,"f":0.24},{"z":"2.8","w":0.846,"f":0.18},
      {"z":"2.8","w":0.849,"f":0.23},{"z":"2.8","w":0.852,"f":0.20},{"z":"2.8","w":0.855,"f":0.24},{"z":"2.8","w":0.858,"f":0.00},
      {"z":"2.8","w":0.859,"f":0.22},{"z":"2.8","w":0.862,"f":0.25},{"z":"2.8","w":0.865,"f":0.20},{"z":"2.8","w":0.868,"f":0.24},
      {"z":"2.8","w":0.871,"f":0.21},{"z":"2.8","w":0.874,"f":0.25},{"z":"2.8","w":0.877,"f":0.21},{"z":"2.8","w":0.880,"f":0.25},
      {"z":"2.8","w":0.881,"f":0.35},{"z":"2.8","w":0.882,"f":0.22},{"z":"2.8","w":0.884,"f":0.26},{"z":"2.8","w":0.886,"f":0.21},
      {"z":"2.8","w":0.888,"f":0.25},{"z":"2.8","w":0.890,"f":0.20},{"z":"2.8","w":0.892,"f":0.24},{"z":"2.8","w":0.894,"f":0.07},
      {"z":"2.8","w":0.895,"f":0.25},{"z":"2.8","w":0.896,"f":0.18},{"z":"2.8","w":0.897,"f":0.40},{"z":"2.8","w":0.898,"f":0.03},
      {"z":"2.8","w":0.899,"f":0.24},{"z":"2.8","w":0.900,"f":0.22}
    ]
  },
  "layer": [
    {
      "data": {"name": "baselines"},
      "mark": {"type": "rule", "color": "#a6a6a6", "strokeDash": [2, 3], "strokeWidth": 1},
      "encoding": {
        "y": {"field": "f", "type": "quantitative", "scale": {"domain": [-0.12, 6.0], "nice": false, "zero": false}, "axis": null}
      }
    },
    {
      "data": {"name": "spectra"},
      "mark": {"type": "line", "color": "#0a0a0a", "strokeWidth": 1.7, "strokeJoin": "round"},
      "encoding": {
        "x": {
          "field": "w", "type": "quantitative",
          "scale": {"domain": [0.342, 1.2], "nice": false, "zero": false},
          "axis": {
            "orient": "bottom",
            "values": [0.35, 0.4, 0.45, 0.5, 0.55, 0.6, 0.65, 0.7, 0.75, 0.8, 0.85, 0.9, 0.95, 1.0, 1.05, 1.1, 1.15, 1.2],
            "tickSize": -14,
            "labelExpr": "abs(datum.value * 5 - round(datum.value * 5)) < 0.001 ? format(datum.value, '.1f') : ''",
            "labelFontSize": 34,
            "labelPadding": 36,
            "labelFlush": false,
            "labelOverlap": false,
            "labelBound": false,
            "title": "Wavelength (Microns)",
            "titleFontSize": 33,
            "titlePadding": 3,
            "encode": {"ticks": {"update": {"y2": {"signal": "abs(datum.value * 5 - round(datum.value * 5)) < 0.001 ? -14 : -7"}}}}
          }
        },
        "y": {
          "field": "f", "type": "quantitative",
          "scale": {"domain": [-0.12, 6.0], "nice": false, "zero": false},
          "axis": {"orient": "left", "values": [-0.12, 6.0], "tickSize": -18, "labels": false, "title": null}
        },
        "detail": {"field": "z"}
      }
    },
    {
      "data": {"name": "labels"},
      "mark": {"type": "text", "align": "left", "baseline": "middle", "font": "DejaVu Sans", "fontWeight": 200, "fontSize": 31, "color": "#9a9a9a"},
      "encoding": {
        "x": {
          "field": "w", "type": "quantitative",
          "scale": {"domain": [0.342, 1.2], "nice": false, "zero": false},
          "axis": {
            "orient": "top",
            "values": [0.35, 0.4, 0.45, 0.5, 0.55, 0.6, 0.65, 0.7, 0.75, 0.8, 0.85, 0.9, 0.95, 1.0, 1.05, 1.1, 1.15, 1.2],
            "tickSize": -14,
            "labels": false,
            "title": null,
            "encode": {"ticks": {"update": {"y2": {"signal": "abs(datum.value * 5 - round(datum.value * 5)) < 0.001 ? 14 : 7"}}}}
          }
        },
        "y": {
          "field": "f", "type": "quantitative",
          "scale": {"domain": [-0.12, 6.0], "nice": false, "zero": false},
          "axis": {"orient": "right", "values": [-0.12, 6.0], "tickSize": -18, "labels": false, "title": null}
        },
        "text": {"field": "label"}
      }
    }
  ],
  "resolve": {"axis": {"x": "independent", "y": "independent"}}
}
